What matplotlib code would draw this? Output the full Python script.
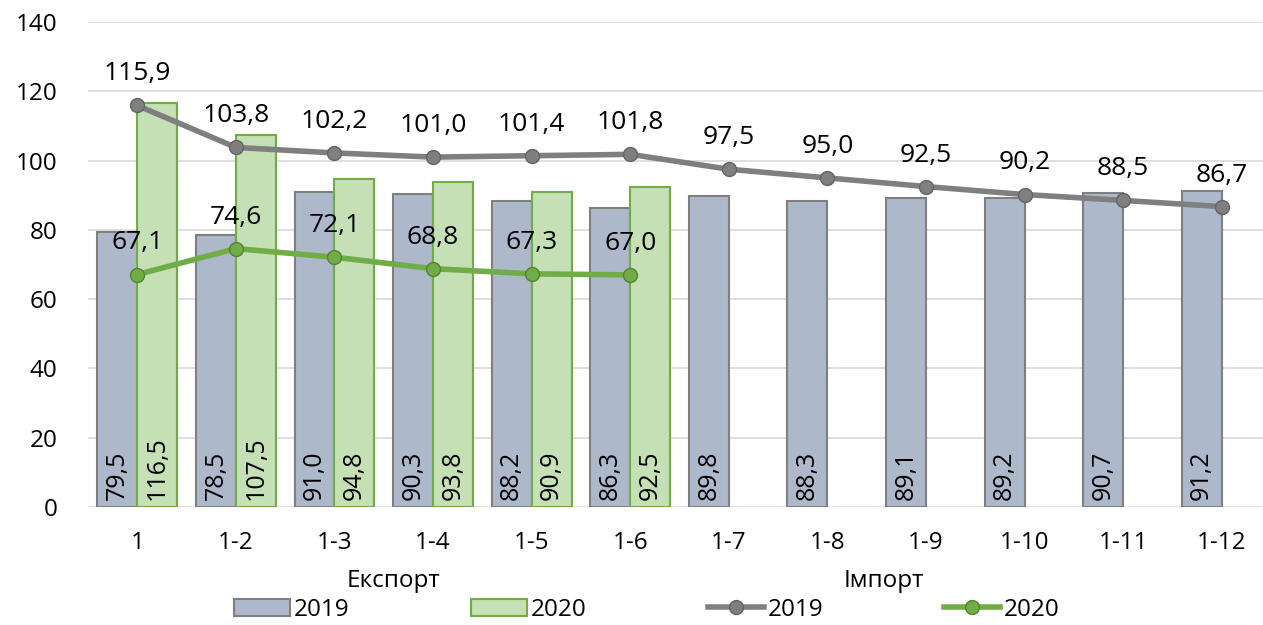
import matplotlib

matplotlib.use("Agg")
import matplotlib.pyplot as plt
import numpy as np
from matplotlib.lines import Line2D
from matplotlib.patches import Patch

categories = ["1", "1-2", "1-3", "1-4", "1-5", "1-6", "1-7", "1-8", "1-9", "1-10", "1-11", "1-12"]
bars_2019 = [79.5, 78.5, 91.0, 90.3, 88.2, 86.3, 89.8, 88.3, 89.1, 89.2, 90.7, 91.2]
bars_2020 = [116.5, 107.5, 94.8, 93.8, 90.9, 92.5]
line_2019 = [115.9, 103.8, 102.2, 101.0, 101.4, 101.8, 97.5, 95.0, 92.5, 90.2, 88.5, 86.7]
line_2020 = [67.1, 74.6, 72.1, 68.8, 67.3, 67.0]
group_labels = ["Експорт", "Імпорт"]
legend_labels = ["2019", "2020", "2019", "2020"]

plt.rcParams["font.family"] = ["Open Sans", "DejaVu Sans"]


def fmt(v):
    return f"{v:.1f}".replace(".", ",")


fig = plt.figure(figsize=(12.63, 6.25), dpi=100)
ax = fig.add_axes([88 / 1263, 1 - 507 / 625, 1183 / 1263, 485 / 625])

x = np.arange(len(categories))
w = 0.405
ax.bar(x - w / 2, bars_2019, w, color="#ADB9CA", edgecolor="#7F7F7F", linewidth=1.5, zorder=2)
x20 = x[: len(bars_2020)]
ax.bar(x20 + w / 2, bars_2020, w, color="#C5E0B4", edgecolor="#70AD47", linewidth=1.5, zorder=2)

for xi, v in zip(x - w / 2, bars_2019):
    ax.text(xi, 2, fmt(v), rotation=90, ha="center", va="bottom", fontsize=18, zorder=5)
for xi, v in zip(x20 + w / 2, bars_2020):
    ax.text(xi, 2, fmt(v), rotation=90, ha="center", va="bottom", fontsize=18, zorder=5)

ax.plot(x, line_2019, color="#7F7F7F", linewidth=4, marker="o", markersize=10,
        markerfacecolor="#7F7F7F", markeredgecolor="#636363", markeredgewidth=1, zorder=3)
x2 = x[: len(line_2020)]
ax.plot(x2, line_2020, color="#70AD47", linewidth=4, marker="o", markersize=10,
        markerfacecolor="#70AD47", markeredgecolor="#548235", markeredgewidth=1, zorder=3)

for xi, v in zip(x, line_2019):
    ax.text(xi, v + 5.5, fmt(v), ha="center", va="bottom", fontsize=19, zorder=5)
for xi, v in zip(x2, line_2020):
    ax.text(xi, v + 5.5, fmt(v), ha="center", va="bottom", fontsize=19, zorder=5)

ax.set_xlim(-0.5, 11.5)
ax.set_ylim(0, 140)
ax.set_yticks(range(0, 141, 20))
ax.set_xticks(x)
ax.set_xticklabels(categories)
ax.tick_params(axis="both", length=0, labelsize=17.5)
ax.tick_params(axis="x", pad=17)
ax.tick_params(axis="y", pad=22)
ax.grid(axis="y", color="#D9D9D9", linewidth=1.2, zorder=0)
ax.set_axisbelow(True)
for s in ax.spines.values():
    s.set_visible(False)

trans = ax.get_xaxis_transform()
ax.text(2.6, -0.152, group_labels[0], transform=trans, ha="center", va="center", fontsize=17.5)
ax.text(7.57, -0.152, group_labels[1], transform=trans, ha="center", va="center", fontsize=17.5)

handles = [
    Patch(facecolor="#ADB9CA", edgecolor="#7F7F7F", linewidth=1.5),
    Patch(facecolor="#C5E0B4", edgecolor="#70AD47", linewidth=1.5),
    Line2D([0], [0], color="#7F7F7F", linewidth=4, marker="o", markersize=10,
           markerfacecolor="#7F7F7F", markeredgecolor="#636363"),
    Line2D([0], [0], color="#70AD47", linewidth=4, marker="o", markersize=10,
           markerfacecolor="#70AD47", markeredgecolor="#548235"),
]
fig.legend(handles, legend_labels, loc="center", bbox_to_anchor=(647 / 1263, 1 - 610 / 625),
           ncol=4, frameon=False, fontsize=17.5, handlelength=2.3, handletextpad=0.15,
           columnspacing=5.0)

fig.savefig("out.png")
